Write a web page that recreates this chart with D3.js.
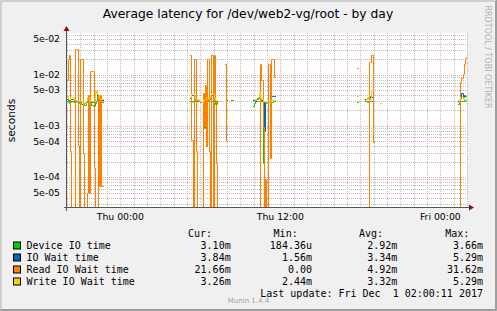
<!DOCTYPE html>
<html>
<head>
<meta charset="utf-8">
<script src="https://cdn.jsdelivr.net/npm/d3@7"></script>
<style>
  body { margin: 0; background: #f0f0f0; }
  svg { display: block; }
  text { font-family: "DejaVu Sans", sans-serif; }
  .mono { font-family: "DejaVu Sans Mono", monospace; white-space: pre; }
</style>
</head>
<body>
<svg id="chart" width="497" height="311"></svg>
<script>
// time window of the "by day" graph (30 hours)
const windowStart = "2017-11-29 20:00";
const windowEnd = "2017-12-01 02:00";

// runs of 5 minute samples, each run starts at this time
const runStarts = ["2017-11-29 20:00", "2017-11-30 05:15", "2017-11-30 09:55", "2017-11-30 17:45", "2017-12-01 01:20"];

const deviceIO = [
  [3.1e-3, 2.9e-3, 2.8e-3, 2.9e-3, 3.0e-3, 2.9e-3, 3.0e-3, 3.0e-3, 3.0e-3, 2.9e-3, 2.9e-3, 2.8e-3, 2.8e-3, 2.7e-3, 2.7e-3, 2.6e-3, 2.6e-3, 2.9e-3, 3.3e-3, 3.0e-3, 2.9e-3, 2.8e-3, 2.6e-3, 2.5e-3, 2.5e-3, 2.8e-3, 3.0e-3, 3.6e-3, 3.3e-3, 3.0e-3, 2.9e-3, 2.9e-3],
  [3.0e-3, 3.0e-3, 2.9e-3, 3.0e-3, 3.0e-3, 3.0e-3, 3.0e-3, 3.0e-3, 3.0e-3, 2.9e-3, 2.9e-3, 2.3e-3, 9e-4, 2.8e-3, 2.9e-3, 3.0e-3, 3.0e-3, 3.1e-3, 3.1e-3, 3.1e-3, 3.0e-3, 2.9e-3, 2.7e-3, 2.7e-3, 3.0e-3, 3.0e-3, null, null, null, null, null, 3.0e-3, 3.2e-3, null, null, null, null, 3.2e-3],
  [2.5e-3, 2.8e-3, 3.0e-3, 3.0e-3, 3.0e-3, 3.1e-3, 3.1e-3, 3.0e-3, 3.0e-3, 1.9e-4, 2.9e-3, 2.8e-3, 2.8e-3, 2.8e-3, 2.9e-3, 2.9e-3, 2.9e-3, 2.9e-3, 3.0e-3, 3.0e-3],
  [2.9e-3, null, null, null, null, null, null, 3.1e-3, 3.0e-3, 2.9e-3, 3.0e-3, 3.1e-3, 3.1e-3, 3.0e-3, null, null, null, null, null, null, null, null, null],
  [2.7e-3, 2.9e-3, 3.1e-3, 3.1e-3, 3.1e-3, 3.2e-3, 3.1e-3, 3.1e-3]
];
const ioWait = [
  [3.4e-3, 3.2e-3, 3.1e-3, 3.3e-3, 3.4e-3, 3.3e-3, 3.1e-3, 3.1e-3, 3.1e-3, 3.0e-3, 3.1e-3, 3.0e-3, 2.9e-3, 3.0e-3, 2.8e-3, 2.8e-3, 2.8e-3, 2.9e-3, 3.5e-3, 3.4e-3, 3.1e-3, 3.0e-3, 2.9e-3, 2.9e-3, 2.9e-3, 4.6e-3, 4.6e-3, 3.9e-3, 3.9e-3, 3.3e-3, 3.2e-3, 3.2e-3],
  [3.5e-3, 4.0e-3, 4.0e-3, 3.7e-3, 3.2e-3, 3.2e-3, 3.1e-3, 3.2e-3, 3.0e-3, 2.9e-3, 2.9e-3, 3.2e-3, 3.3e-3, 3.2e-3, 3.4e-3, 3.4e-3, 3.2e-3, 3.3e-3, 3.7e-3, 4.0e-3, 4.0e-3, 3.4e-3, 3.1e-3, 3.1e-3, 3.0e-3, 3.0e-3, null, null, null, null, null, 3.1e-3, 3.1e-3, null, null, null, null, null],
  [3.2e-3, 3.2e-3, 3.1e-3, 3.3e-3, 3.4e-3, 3.5e-3, 4.0e-3, 3.4e-3, 3.2e-3, 2.9e-3, 8e-4, 2.9e-3, 2.9e-3, 2.9e-3, 3.0e-3, 3.0e-3, 3.2e-3, 3.8e-3, 3.8e-3, 3.8e-3],
  [null, null, null, null, null, null, null, 3.3e-3, 3.4e-3, 3.5e-3, 3.5e-3, 3.4e-3, 3.8e-3, 3.6e-3, null, null, null, null, null, null, null, null, null],
  [3.0e-3, 3.2e-3, 3.5e-3, 4.3e-3, 3.6e-3, 4.0e-3, 3.9e-3, 3.84e-3]
];
const readWait = [
  [8e-3, 2e-2, 2.4e-2, 3.2e-4, 0, 0, 0, 3.2e-2, 3.2e-2, 3.2e-2, 4.3e-4, 0, 2e-2, 2e-2, 3e-4, 0, 0, 0, 5e-5, 4e-3, 5e-5, 1.2e-2, 1.2e-2, 1.2e-2, 1.5e-4, 0, 0, 0, 4e-3, 6.6e-5, 4e-3, 6.6e-5],
  [2.4e-2, 5.3e-4, 0, 2e-2, 2e-2, 3.2e-4, 0, 0, 0, 0, 0, 4.3e-3, 1e-3, 6.2e-3, 4e-4, 2e-2, 2e-2, 3.2e-4, 0, 2.4e-2, 0, 2.4e-2, 3.2e-3, 1.9e-4, 0, 0, 0, null, null, null, null, 1.6e-2, 5.1e-4, null, null, null, null, null],
  [0, 0, 0, 0, 0, 0, 0, 1.6e-2, 8e-3, 9.7e-4, 0, 9e-5, 0, 0, 1.6e-2, 1.6e-2, 2.4e-4, 2e-2, 2e-2, 8.9e-3],
  [1.37e-2, null, null, null, null, null, null, 0, 0, 0, 0, 1.75e-2, 1.75e-2, 2.4e-2, 4.8e-4, null, null, null, null, null, null, null, null],
  [0, 0, 7.2e-3, 8.7e-3, 1.05e-2, 1.6e-2, 2.15e-2, 2.166e-2]
];
const writeWait = [
  [3.8e-3, 3.3e-3, 3.3e-3, 3.6e-3, 3.6e-3, 3.6e-3, 3.2e-3, 3.2e-3, 3.2e-3, 3.1e-3, 3.2e-3, 3.1e-3, 3.0e-3, 3.1e-3, 2.9e-3, 2.85e-3, 2.85e-3, 3.0e-3, 3.7e-3, 3.7e-3, 3.2e-3, 3.1e-3, 3.0e-3, 3.0e-3, 3.0e-3, 5.1e-3, 5.1e-3, 4.2e-3, 4.2e-3, 3.5e-3, 3.3e-3, 3.3e-3],
  [3.7e-3, 4.4e-3, 4.4e-3, 4.0e-3, 3.3e-3, 3.3e-3, 3.2e-3, 3.3e-3, 3.1e-3, 2.95e-3, 2.95e-3, 3.3e-3, 3.4e-3, 3.3e-3, 3.6e-3, 3.6e-3, 3.3e-3, 3.5e-3, 4.0e-3, 4.4e-3, 4.4e-3, 3.6e-3, 3.2e-3, 3.2e-3, 3.1e-3, 3.1e-3, 3.1e-3, null, null, null, null, 3.1e-3, 3.1e-3, null, null, null, null, null],
  [3.3e-3, 3.3e-3, 3.2e-3, 3.5e-3, 3.6e-3, 3.7e-3, 4.5e-3, 3.6e-3, 3.3e-3, 3.1e-3, 3.0e-3, 2.95e-3, 3.0e-3, 2.9e-3, 3.0e-3, 3.0e-3, 3.1e-3, 3.2e-3, 3.2e-3, 3.2e-3],
  [3.9e-3, null, null, null, null, null, null, 3.2e-3, 3.3e-3, 3.7e-3, 3.7e-3, 3.5e-3, 3.4e-3, 5.1e-3, null, null, null, null, null, null, null, 2.75e-3, null],
  [2.95e-3, 3.3e-3, 3.6e-3, 3.7e-3, 3.4e-3, 3.3e-3, 3.3e-3, 3.26e-3]
];

// axis ticks
const yTickLabels = [5e-2, 1e-2, 5e-3, 1e-3, 5e-4, 1e-4, 5e-5];

// legend
const legendNames = ["Device IO time", "IO Wait time", "Read IO Wait time", "Write IO Wait time"];
const legendCur = ["3.10m", "3.84m", "21.66m", "3.26m"];
const legendMin = ["184.36u", "1.56m", "0.00", "2.44m"];
const legendAvg = ["2.92m", "3.34m", "4.92m", "3.32m"];
const legendMax = ["3.66m", "5.29m", "31.62m", "5.29m"];

const seriesColors = ['#00cc00', '#0066b3', '#ff8000', '#ffcc00'];

const parseTime = d3.timeParse('%Y-%m-%d %H:%M');
const svg = d3.select('#chart');
const W = 497, H = 311;
const plot = { left: 67, right: 467, top: 33, bottom: 208 };

const x = d3.scaleTime()
  .domain([parseTime(windowStart), parseTime(windowEnd)])
  .range([plot.left, plot.right]);
const y = d3.scaleLog()
  .domain([2.5e-5, 6.5e-2])
  .range([plot.bottom, plot.top]);

// background + 3d border
svg.append('rect').attr('width', W).attr('height', H).attr('fill', '#f0f0f0');
svg.append('path').attr('d', `M0.5,${H} V0.5 H${W}`).attr('fill', 'none').attr('stroke', '#cfcfcf');
svg.append('path').attr('d', `M0,${H - 0.5} H${W - 0.5} V0`).attr('fill', 'none').attr('stroke', '#9e9e9e');
svg.append('path').attr('d', `M1.5,${H - 1} V1.5 H${W - 1}`).attr('fill', 'none').attr('stroke', '#cfcfcf');
svg.append('path').attr('d', `M1,${H - 1.5} H${W - 1.5} V1`).attr('fill', 'none').attr('stroke', '#9e9e9e');

// canvas
svg.append('rect')
  .attr('x', plot.left).attr('y', plot.top)
  .attr('width', plot.right - plot.left).attr('height', plot.bottom - plot.top)
  .attr('fill', '#ffffff');

svg.append('defs').append('clipPath').attr('id', 'plotclip')
  .append('rect')
  .attr('x', plot.left).attr('y', plot.top - 2)
  .attr('width', plot.right - plot.left).attr('height', plot.bottom - plot.top + 2);

const grid = svg.append('g').attr('shape-rendering', 'crispEdges');

// horizontal grid, log decades
const yVals = [];
for (let k = -5; k <= -2; k++) {
  for (let m = 1; m <= 9; m++) {
    const v = m * Math.pow(10, k);
    if (v >= y.domain()[0] && v <= y.domain()[1]) yVals.push({ v, major: m === 1 || m === 5 });
  }
}
grid.selectAll('.hminor')
  .data(yVals.filter(d => !d.major))
  .join('line')
  .attr('x1', plot.left).attr('x2', plot.right)
  .attr('y1', d => Math.round(y(d.v)) + 0.5).attr('y2', d => Math.round(y(d.v)) + 0.5)
  .attr('stroke', '#bcbcbc').attr('stroke-dasharray', '1,1');

// vertical grid, hours
const hours = x.ticks(d3.timeHour.every(1));
grid.selectAll('.vminor')
  .data(hours.filter(t => t.getHours() % 6 !== 0))
  .join('line')
  .attr('x1', d => Math.round(x(d)) + 0.5).attr('x2', d => Math.round(x(d)) + 0.5)
  .attr('y1', plot.top).attr('y2', plot.bottom)
  .attr('stroke', '#bcbcbc').attr('stroke-dasharray', '1,1');

grid.selectAll('.hmajor')
  .data(yVals.filter(d => d.major))
  .join('line')
  .attr('x1', plot.left).attr('x2', plot.right)
  .attr('y1', d => Math.round(y(d.v)) + 0.5).attr('y2', d => Math.round(y(d.v)) + 0.5)
  .attr('stroke', '#efa7a7').attr('stroke-dasharray', '1,1');

grid.selectAll('.vmajor')
  .data(hours.filter(t => t.getHours() % 6 === 0))
  .join('line')
  .attr('x1', d => Math.round(x(d)) + 0.5).attr('x2', d => Math.round(x(d)) + 0.5)
  .attr('y1', plot.top).attr('y2', plot.bottom)
  .attr('stroke', '#efa7a7').attr('stroke-dasharray', '1,1');

// data lines, stepped per 5 minute sample
const slotMs = 5 * 60 * 1000;
const yPix = v => (v > 0 ? Math.round(y(v)) + 0.5 : plot.bottom - 0.5);
const xPix = t => Math.round(x(t)) + 0.5;
const toSteps = runs => {
  const pts = [];
  runs.forEach((vals, r) => {
    const t0 = parseTime(runStarts[r]).getTime();
    vals.forEach((v, i) => {
      const a = new Date(t0 + i * slotMs), b = new Date(t0 + (i + 1) * slotMs);
      pts.push({ t: a, v }, { t: b, v });
    });
    pts.push({ t: null, v: null });
  });
  return pts;
};
const line = d3.line()
  .defined(d => d.v !== null)
  .x(d => xPix(d.t))
  .y(d => yPix(d.v));

const lines = svg.append('g').attr('clip-path', 'url(#plotclip)');
[deviceIO, ioWait, readWait, writeWait].forEach((runs, s) => {
  lines.append('path')
    .attr('d', line(toSteps(runs)))
    .attr('fill', 'none')
    .attr('stroke', seriesColors[s])
    .attr('stroke-width', 1)
    .attr('stroke-linecap', 'square');
});

// axes
svg.append('line')
  .attr('x1', plot.left - 0.5).attr('x2', plot.left - 0.5)
  .attr('y1', plot.top - 3).attr('y2', plot.bottom + 3)
  .attr('stroke', '#555555');
svg.append('line')
  .attr('x1', plot.left - 3).attr('x2', plot.right + 3)
  .attr('y1', plot.bottom - 0.5).attr('y2', plot.bottom - 0.5)
  .attr('stroke', '#555555');
svg.append('path')
  .attr('d', `M${plot.left - 0.5},${plot.top - 7} L${plot.left - 3.5},${plot.top - 2} L${plot.left + 2.5},${plot.top - 2} Z`)
  .attr('fill', '#7f1414');
svg.append('path')
  .attr('d', `M${plot.right + 7},${plot.bottom - 0.5} L${plot.right + 2},${plot.bottom - 3.5} L${plot.right + 2},${plot.bottom + 2.5} Z`)
  .attr('fill', '#7f1414');

// y tick labels
const fmtExp = v => {
  const [m, e] = v.toExponential(0).split('e');
  const n = Math.abs(+e);
  return `${m}e${+e < 0 ? '-' : '+'}${n < 10 ? '0' + n : n}`;
};
svg.selectAll('.ylab')
  .data(yTickLabels)
  .join('text')
  .attr('x', 60).attr('y', d => y(d) + 3.3)
  .attr('text-anchor', 'end')
  .attr('font-size', 9.3)
  .text(fmtExp);

// x tick labels
svg.selectAll('.xlab')
  .data(hours.filter(t => t.getHours() % 12 === 0))
  .join('text')
  .attr('x', d => x(d)).attr('y', 220)
  .attr('text-anchor', 'middle')
  .attr('font-size', 9.3)
  .text(d3.timeFormat('%a %H:%M'));

// title and side texts
svg.append('text')
  .attr('x', 248).attr('y', 17.5)
  .attr('text-anchor', 'middle')
  .attr('font-size', 12.3)
  .text('Average latency for /dev/web2-vg/root - by day');

svg.append('text')
  .attr('transform', 'translate(14.5,120.5) rotate(-90)')
  .attr('text-anchor', 'middle')
  .attr('font-size', 10.7)
  .text('seconds');

svg.append('text')
  .attr('transform', 'translate(484.5,57) rotate(90)')
  .attr('text-anchor', 'middle')
  .attr('font-size', 8)
  .attr('fill', '#b0b0b0')
  .text('RRDTOOL / TOBI OETIKER');

// legend
const legend = svg.append('g').attr('class', 'mono').attr('font-size', 10);
const headers = [['Cur:', 212], ['Min:', 297.7], ['Avg:', 383], ['Max:', 469.3]];
headers.forEach(([h, hx]) => {
  legend.append('text').attr('class', 'mono')
    .attr('x', hx).attr('y', 237).attr('text-anchor', 'end').text(h);
});
const cols = [[legendCur, 230.7], [legendMin, 312], [legendAvg, 397.3], [legendMax, 483]];
legendNames.forEach((name, i) => {
  const ly = 245.5 + i * 12;
  legend.append('rect')
    .attr('x', 13.5).attr('y', ly - 3.5)
    .attr('width', 7).attr('height', 7)
    .attr('fill', seriesColors[i]).attr('stroke', '#000000').attr('stroke-width', 1);
  legend.append('text').attr('class', 'mono')
    .attr('x', 26.5).attr('y', ly + 3.5).text(name);
  cols.forEach(([vals, cx]) => {
    legend.append('text').attr('class', 'mono')
      .attr('x', cx).attr('y', ly + 3.5).attr('text-anchor', 'end').text(vals[i]);
  });
});
legend.append('text').attr('class', 'mono')
  .attr('x', 483).attr('y', 297).attr('text-anchor', 'end')
  .text('Last update: Fri Dec  1 02:00:11 2017');

svg.append('text')
  .attr('x', 248.5).attr('y', 303)
  .attr('text-anchor', 'middle')
  .attr('font-size', 7)
  .attr('fill', '#a0a0a0')
  .text('Munin 1.4.4');
</script>
</body>
</html>
